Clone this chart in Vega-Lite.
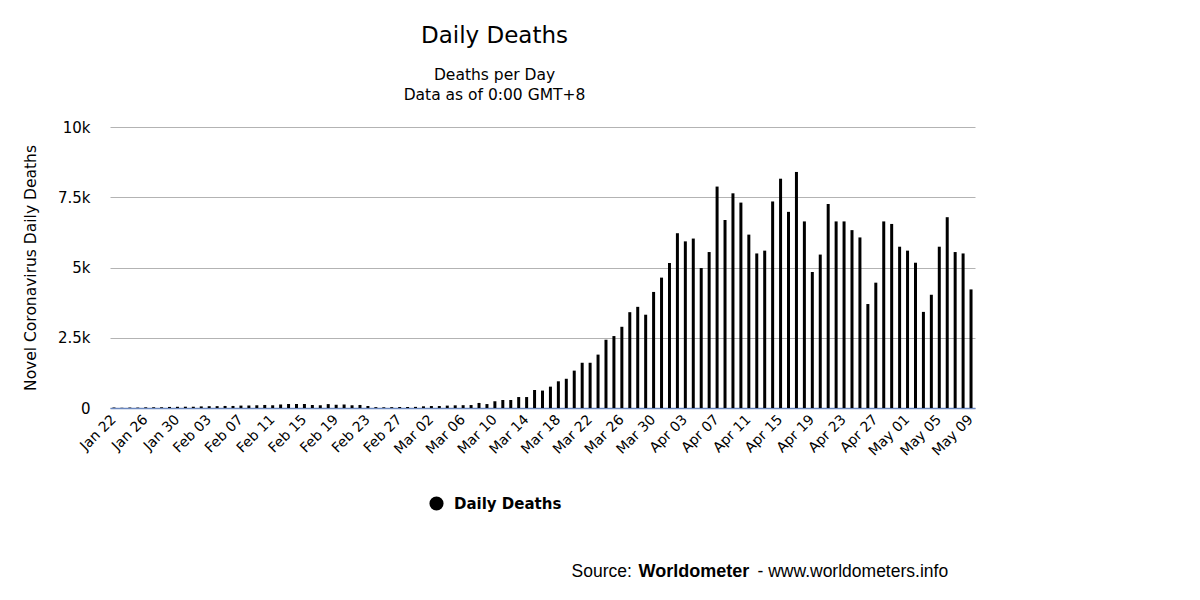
{
  "$schema": "https://vega.github.io/schema/vega-lite/v6.json",
  "autosize": {"type": "none"},
  "padding": {"left": 110, "top": 127, "right": 225, "bottom": 192},
  "width": 865,
  "height": 281,
  "background": "white",
  "title": {
    "text": "Daily Deaths",
    "subtitle": ["Deaths per Day", "Data as of 0:00 GMT+8"],
    "anchor": "middle",
    "dx": -48,
    "offset": 17,
    "font": "DejaVu Sans",
    "fontSize": 23,
    "fontWeight": "normal",
    "color": "#000",
    "subtitleFont": "DejaVu Sans",
    "subtitleFontSize": 15.5,
    "subtitleColor": "#000",
    "subtitleLineHeight": 20,
    "subtitlePadding": 20
  },
  "data": {
    "values": [
      {"date": "Jan 22", "deaths": 17}, {"date": "Jan 23", "deaths": 8}, {"date": "Jan 24", "deaths": 16},
      {"date": "Jan 25", "deaths": 15}, {"date": "Jan 26", "deaths": 24}, {"date": "Jan 27", "deaths": 26},
      {"date": "Jan 28", "deaths": 26}, {"date": "Jan 29", "deaths": 38}, {"date": "Jan 30", "deaths": 43},
      {"date": "Jan 31", "deaths": 46}, {"date": "Feb 01", "deaths": 45}, {"date": "Feb 02", "deaths": 57},
      {"date": "Feb 03", "deaths": 64}, {"date": "Feb 04", "deaths": 66}, {"date": "Feb 05", "deaths": 73},
      {"date": "Feb 06", "deaths": 73}, {"date": "Feb 07", "deaths": 86}, {"date": "Feb 08", "deaths": 89},
      {"date": "Feb 09", "deaths": 97}, {"date": "Feb 10", "deaths": 108}, {"date": "Feb 11", "deaths": 97},
      {"date": "Feb 12", "deaths": 125}, {"date": "Feb 13", "deaths": 142}, {"date": "Feb 14", "deaths": 143},
      {"date": "Feb 15", "deaths": 142}, {"date": "Feb 16", "deaths": 106}, {"date": "Feb 17", "deaths": 98},
      {"date": "Feb 18", "deaths": 139}, {"date": "Feb 19", "deaths": 115}, {"date": "Feb 20", "deaths": 125},
      {"date": "Feb 21", "deaths": 97}, {"date": "Feb 22", "deaths": 108}, {"date": "Feb 23", "deaths": 71},
      {"date": "Feb 24", "deaths": 30}, {"date": "Feb 25", "deaths": 25}, {"date": "Feb 26", "deaths": 30},
      {"date": "Feb 27", "deaths": 35}, {"date": "Feb 28", "deaths": 35}, {"date": "Feb 29", "deaths": 40},
      {"date": "Mar 01", "deaths": 60}, {"date": "Mar 02", "deaths": 70}, {"date": "Mar 03", "deaths": 70},
      {"date": "Mar 04", "deaths": 85}, {"date": "Mar 05", "deaths": 95}, {"date": "Mar 06", "deaths": 100},
      {"date": "Mar 07", "deaths": 105}, {"date": "Mar 08", "deaths": 180}, {"date": "Mar 09", "deaths": 140},
      {"date": "Mar 10", "deaths": 240}, {"date": "Mar 11", "deaths": 285}, {"date": "Mar 12", "deaths": 285},
      {"date": "Mar 13", "deaths": 390}, {"date": "Mar 14", "deaths": 390}, {"date": "Mar 15", "deaths": 640},
      {"date": "Mar 16", "deaths": 620}, {"date": "Mar 17", "deaths": 760}, {"date": "Mar 18", "deaths": 950},
      {"date": "Mar 19", "deaths": 1040}, {"date": "Mar 20", "deaths": 1330}, {"date": "Mar 21", "deaths": 1610},
      {"date": "Mar 22", "deaths": 1610}, {"date": "Mar 23", "deaths": 1900}, {"date": "Mar 24", "deaths": 2430},
      {"date": "Mar 25", "deaths": 2560}, {"date": "Mar 26", "deaths": 2890}, {"date": "Mar 27", "deaths": 3410},
      {"date": "Mar 28", "deaths": 3600}, {"date": "Mar 29", "deaths": 3320}, {"date": "Mar 30", "deaths": 4130},
      {"date": "Mar 31", "deaths": 4640}, {"date": "Apr 01", "deaths": 5160}, {"date": "Apr 02", "deaths": 6220},
      {"date": "Apr 03", "deaths": 5930}, {"date": "Apr 04", "deaths": 6030}, {"date": "Apr 05", "deaths": 4980},
      {"date": "Apr 06", "deaths": 5550}, {"date": "Apr 07", "deaths": 7880}, {"date": "Apr 08", "deaths": 6690},
      {"date": "Apr 09", "deaths": 7640}, {"date": "Apr 10", "deaths": 7310}, {"date": "Apr 11", "deaths": 6170},
      {"date": "Apr 12", "deaths": 5500}, {"date": "Apr 13", "deaths": 5600}, {"date": "Apr 14", "deaths": 7350},
      {"date": "Apr 15", "deaths": 8160}, {"date": "Apr 16", "deaths": 6980}, {"date": "Apr 17", "deaths": 8400},
      {"date": "Apr 18", "deaths": 6640}, {"date": "Apr 19", "deaths": 4840}, {"date": "Apr 20", "deaths": 5460},
      {"date": "Apr 21", "deaths": 7260}, {"date": "Apr 22", "deaths": 6640}, {"date": "Apr 23", "deaths": 6640},
      {"date": "Apr 24", "deaths": 6330}, {"date": "Apr 25", "deaths": 6070}, {"date": "Apr 26", "deaths": 3700},
      {"date": "Apr 27", "deaths": 4460}, {"date": "Apr 28", "deaths": 6640}, {"date": "Apr 29", "deaths": 6550},
      {"date": "Apr 30", "deaths": 5740}, {"date": "May 01", "deaths": 5600}, {"date": "May 02", "deaths": 5170},
      {"date": "May 03", "deaths": 3420}, {"date": "May 04", "deaths": 4030}, {"date": "May 05", "deaths": 5740},
      {"date": "May 06", "deaths": 6790}, {"date": "May 07", "deaths": 5550}, {"date": "May 08", "deaths": 5500},
      {"date": "May 09", "deaths": 4220}
    ]
  },
  "resolve": {"axis": {"x": "independent"}},
  "layer": [
    {
      "mark": {"type": "bar", "width": 3},
      "encoding": {
        "x": {
          "field": "date", "type": "ordinal", "sort": null,
          "scale": {"paddingInner": 0, "paddingOuter": 0},
          "axis": {
            "orient": "bottom",
            "values": ["Jan 22", "Jan 26", "Jan 30", "Feb 03", "Feb 07", "Feb 11", "Feb 15", "Feb 19", "Feb 23", "Feb 27", "Mar 02", "Mar 06", "Mar 10", "Mar 14", "Mar 18", "Mar 22", "Mar 26", "Mar 30", "Apr 03", "Apr 07", "Apr 11", "Apr 15", "Apr 19", "Apr 23", "Apr 27", "May 01", "May 05", "May 09"],
            "labelAngle": -45,
            "labelAlign": "right",
            "labelBaseline": "middle",
            "labelPadding": 9,
            "labelFont": "DejaVu Sans",
            "labelFontSize": 14,
            "labelColor": "#000",
            "ticks": false,
            "domainColor": "#6b88c0",
            "domainWidth": 1.5,
            "grid": false,
            "title": "Source:",
            "titleFont": "Liberation Sans",
            "titleFontSize": 17.5,
            "titleFontWeight": "normal",
            "titleColor": "#000",
            "titleAlign": "left",
            "titleAnchor": "start",
            "titleBaseline": "alphabetic",
            "titleAngle": 0,
            "titleX": 461,
            "titleY": 168
          }
        },
        "y": {
          "field": "deaths", "type": "quantitative",
          "scale": {"domain": [0, 10000]},
          "axis": {
            "values": [0, 2500, 5000, 7500, 10000],
            "labelExpr": "datum.value == 0 ? '0' : format(datum.value / 1000, '~g') + 'k'",
            "labelFont": "DejaVu Sans",
            "labelFontSize": 15,
            "labelColor": "#000",
            "labelPadding": 20,
            "ticks": false,
            "domain": false,
            "gridColor": "#b3b3b3",
            "gridWidth": 1,
            "title": "Novel Coronavirus Daily Deaths",
            "titleFont": "DejaVu Sans",
            "titleFontSize": 15.5,
            "titleFontWeight": "normal",
            "titleColor": "#000",
            "titlePadding": 19
          }
        },
        "color": {
          "datum": "Daily Deaths",
          "type": "nominal",
          "scale": {"range": ["#000000"]},
          "legend": {
            "title": null,
            "orient": "none",
            "legendX": 319,
            "legendY": 369,
            "padding": 0,
            "symbolType": "circle",
            "symbolSize": 200,
            "symbolStrokeWidth": 0,
            "labelFont": "DejaVu Sans",
            "labelFontSize": 15,
            "labelFontWeight": "bold",
            "labelColor": "#000",
            "labelOffset": 10
          }
        }
      }
    },
    {
      "mark": {"type": "bar", "width": 3, "opacity": 0},
      "encoding": {
        "x": {
          "field": "date", "type": "ordinal", "sort": null,
          "axis": {
            "orient": "bottom",
            "labels": false, "ticks": false, "domain": false, "grid": false,
            "title": "Worldometer",
            "titleFont": "Liberation Sans",
            "titleFontSize": 18,
            "titleFontWeight": "bold",
            "titleColor": "#000",
            "titleAlign": "left",
            "titleAnchor": "start",
            "titleBaseline": "alphabetic",
            "titleAngle": 0,
            "titleX": 528,
            "titleY": 168
          }
        },
        "y": {"field": "deaths", "type": "quantitative"}
      }
    },
    {
      "mark": {"type": "bar", "width": 3, "opacity": 0},
      "encoding": {
        "x": {
          "field": "date", "type": "ordinal", "sort": null,
          "axis": {
            "orient": "bottom",
            "labels": false, "ticks": false, "domain": false, "grid": false,
            "title": "- www.worldometers.info",
            "titleFont": "Liberation Sans",
            "titleFontSize": 17.5,
            "titleFontWeight": "normal",
            "titleColor": "#000",
            "titleAlign": "left",
            "titleAnchor": "start",
            "titleBaseline": "alphabetic",
            "titleAngle": 0,
            "titleX": 647,
            "titleY": 168
          }
        },
        "y": {"field": "deaths", "type": "quantitative"}
      }
    }
  ],
  "config": {
    "view": {"stroke": null}
  }
}
